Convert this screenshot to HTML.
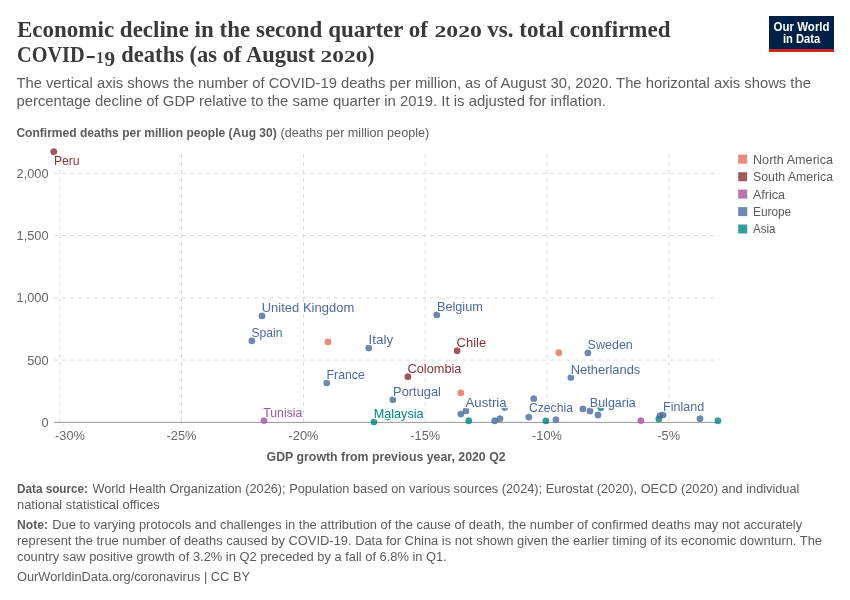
<!DOCTYPE html>
<html><head><meta charset="utf-8"><style>
html,body{margin:0;padding:0;background:#fff;width:850px;height:600px;overflow:hidden}
svg{display:block;will-change:transform}
text{font-family:"Liberation Sans",sans-serif}
.ti{font-family:"Liberation Serif",serif;font-weight:bold;font-size:22.5px;fill:#3a3a3a}
.od{font-size:16.8px}
.st{font-size:14.3px;fill:#5b5b5b}
.ax{font-size:12.5px;fill:#5b5b5b}
.t{font-size:12.8px;fill:#666}
.lb{font-size:12.8px;paint-order:stroke;stroke:#fff;stroke-width:2.5;stroke-linejoin:round}
.lg{font-size:12.6px;fill:#5b5b5b}
.ft{font-size:12.3px;fill:#5b5b5b}
.g{stroke:#ddd;stroke-width:1;stroke-dasharray:4,4}
</style></head><body>
<svg width="850" height="600" viewBox="0 0 850 600">
<text x="17" y="36.9" class="ti" textLength="411" lengthAdjust="spacingAndGlyphs">Economic decline in the second quarter of</text>
<text x="434.4" y="36.9" class="ti od" textLength="47.6" lengthAdjust="spacingAndGlyphs">2020</text>
<text x="487.3" y="36.9" class="ti" textLength="183.2" lengthAdjust="spacingAndGlyphs">vs. total confirmed</text>
<text x="17" y="62.4" class="ti" textLength="67.6" lengthAdjust="spacingAndGlyphs">COVID</text>
<rect x="86.8" y="56" width="7.9" height="2.1" fill="#3a3a3a"/>
<text x="96.5" y="62.6" class="ti" style="font-size:17.3px" textLength="7" lengthAdjust="spacingAndGlyphs">1</text>
<text x="104.4" y="65.6" class="ti" style="font-size:21.5px" textLength="10.6" lengthAdjust="spacingAndGlyphs">9</text>
<text x="121.3" y="62.4" class="ti" textLength="193.6" lengthAdjust="spacingAndGlyphs">deaths (as of August</text>
<text x="320.6" y="62.4" class="ti od" textLength="46.8" lengthAdjust="spacingAndGlyphs">2020</text>
<text x="367.4" y="62.4" class="ti" textLength="7" lengthAdjust="spacingAndGlyphs">)</text>
<rect x="769" y="16" width="65" height="33" fill="#002147"/>
<rect x="769" y="49" width="65" height="3" fill="#ca2628"/>
<text x="801.6" y="30.8" text-anchor="middle" style="font-size:12.2px;font-weight:bold" fill="#fff" textLength="56" lengthAdjust="spacingAndGlyphs">Our World</text>
<text x="801.6" y="42.9" text-anchor="middle" style="font-size:12.2px;font-weight:bold" fill="#fff" textLength="37.3" lengthAdjust="spacingAndGlyphs">in Data</text>
<text x="16.4" y="87.7" class="st" textLength="794.5" lengthAdjust="spacingAndGlyphs">The vertical axis shows the number of COVID-19 deaths per million, as of August 30, 2020. The horizontal axis shows the</text>
<text x="16.4" y="105.8" class="st" textLength="589.6" lengthAdjust="spacingAndGlyphs">percentage decline of GDP relative to the same quarter in 2019. It is adjusted for inflation.</text>
<text x="16.4" y="136.7" class="ax"><tspan font-weight="bold" textLength="260.4" lengthAdjust="spacingAndGlyphs">Confirmed deaths per million people (Aug 30)</tspan></text>
<text x="280.5" y="136.7" class="ax" textLength="148.7" lengthAdjust="spacingAndGlyphs">(deaths per million people)</text>
<line x1="54" y1="173.3" x2="719" y2="173.3" class="g"/>
<line x1="54" y1="235.5" x2="719" y2="235.5" class="g"/>
<line x1="54" y1="297.8" x2="719" y2="297.8" class="g"/>
<line x1="54" y1="360.1" x2="719" y2="360.1" class="g"/>
<line x1="59.7" y1="154" x2="59.7" y2="422" class="g"/>
<line x1="181.5" y1="154" x2="181.5" y2="422" class="g"/>
<line x1="303.5" y1="154" x2="303.5" y2="422" class="g"/>
<line x1="425.2" y1="154" x2="425.2" y2="422" class="g"/>
<line x1="547" y1="154" x2="547" y2="422" class="g"/>
<line x1="668.7" y1="154" x2="668.7" y2="422" class="g"/>
<line x1="54" y1="422.4" x2="719" y2="422.4" stroke="#999" stroke-width="1"/>
<text x="48.6" y="177.70000000000002" text-anchor="end" class="t">2,000</text>
<text x="48.6" y="239.9" text-anchor="end" class="t">1,500</text>
<text x="48.6" y="302.2" text-anchor="end" class="t">1,000</text>
<text x="48.6" y="364.5" text-anchor="end" class="t">500</text>
<text x="48.6" y="426.79999999999995" text-anchor="end" class="t">0</text>
<text x="55" y="440" class="t">-30%</text>
<text x="181.5" y="440" text-anchor="middle" class="t">-25%</text>
<text x="303.5" y="440" text-anchor="middle" class="t">-20%</text>
<text x="425.2" y="440" text-anchor="middle" class="t">-15%</text>
<text x="547" y="440" text-anchor="middle" class="t">-10%</text>
<text x="668.7" y="440" text-anchor="middle" class="t">-5%</text>
<circle cx="374" cy="421.9" r="3.2" fill="#00847e" fill-opacity="0.8" stroke="#00847e" stroke-opacity="0.6" stroke-width="0.5"/>
<circle cx="387.9" cy="417" r="3.2" fill="#00847e" fill-opacity="0.8" stroke="#00847e" stroke-opacity="0.6" stroke-width="0.5"/>
<circle cx="468.8" cy="420.8" r="3.2" fill="#00847e" fill-opacity="0.8" stroke="#00847e" stroke-opacity="0.6" stroke-width="0.5"/>
<circle cx="545.9" cy="420.9" r="3.2" fill="#00847e" fill-opacity="0.8" stroke="#00847e" stroke-opacity="0.6" stroke-width="0.5"/>
<circle cx="600.9" cy="407.7" r="3.2" fill="#00847e" fill-opacity="0.8" stroke="#00847e" stroke-opacity="0.6" stroke-width="0.5"/>
<circle cx="658.8" cy="419" r="3.2" fill="#00847e" fill-opacity="0.8" stroke="#00847e" stroke-opacity="0.6" stroke-width="0.5"/>
<circle cx="717.9" cy="420.8" r="3.2" fill="#00847e" fill-opacity="0.8" stroke="#00847e" stroke-opacity="0.6" stroke-width="0.5"/>
<circle cx="262" cy="315.9" r="3.2" fill="#4c6a9c" fill-opacity="0.8" stroke="#4c6a9c" stroke-opacity="0.6" stroke-width="0.5"/>
<circle cx="251.9" cy="340.8" r="3.2" fill="#4c6a9c" fill-opacity="0.8" stroke="#4c6a9c" stroke-opacity="0.6" stroke-width="0.5"/>
<circle cx="368.8" cy="348" r="3.2" fill="#4c6a9c" fill-opacity="0.8" stroke="#4c6a9c" stroke-opacity="0.6" stroke-width="0.5"/>
<circle cx="326.8" cy="382.9" r="3.2" fill="#4c6a9c" fill-opacity="0.8" stroke="#4c6a9c" stroke-opacity="0.6" stroke-width="0.5"/>
<circle cx="436.8" cy="314.9" r="3.2" fill="#4c6a9c" fill-opacity="0.8" stroke="#4c6a9c" stroke-opacity="0.6" stroke-width="0.5"/>
<circle cx="392.9" cy="399.7" r="3.2" fill="#4c6a9c" fill-opacity="0.8" stroke="#4c6a9c" stroke-opacity="0.6" stroke-width="0.5"/>
<circle cx="460.8" cy="414.1" r="3.2" fill="#4c6a9c" fill-opacity="0.8" stroke="#4c6a9c" stroke-opacity="0.6" stroke-width="0.5"/>
<circle cx="465.9" cy="410.9" r="3.2" fill="#4c6a9c" fill-opacity="0.8" stroke="#4c6a9c" stroke-opacity="0.6" stroke-width="0.5"/>
<circle cx="494.7" cy="420.8" r="3.2" fill="#4c6a9c" fill-opacity="0.8" stroke="#4c6a9c" stroke-opacity="0.6" stroke-width="0.5"/>
<circle cx="500" cy="418.8" r="3.2" fill="#4c6a9c" fill-opacity="0.8" stroke="#4c6a9c" stroke-opacity="0.6" stroke-width="0.5"/>
<circle cx="504.7" cy="407.6" r="3.2" fill="#4c6a9c" fill-opacity="0.8" stroke="#4c6a9c" stroke-opacity="0.6" stroke-width="0.5"/>
<circle cx="533.8" cy="398.8" r="3.2" fill="#4c6a9c" fill-opacity="0.8" stroke="#4c6a9c" stroke-opacity="0.6" stroke-width="0.5"/>
<circle cx="528.8" cy="417.1" r="3.2" fill="#4c6a9c" fill-opacity="0.8" stroke="#4c6a9c" stroke-opacity="0.6" stroke-width="0.5"/>
<circle cx="555.9" cy="419.7" r="3.2" fill="#4c6a9c" fill-opacity="0.8" stroke="#4c6a9c" stroke-opacity="0.6" stroke-width="0.5"/>
<circle cx="587.9" cy="352.9" r="3.2" fill="#4c6a9c" fill-opacity="0.8" stroke="#4c6a9c" stroke-opacity="0.6" stroke-width="0.5"/>
<circle cx="570.9" cy="377.6" r="3.2" fill="#4c6a9c" fill-opacity="0.8" stroke="#4c6a9c" stroke-opacity="0.6" stroke-width="0.5"/>
<circle cx="582.9" cy="408.9" r="3.2" fill="#4c6a9c" fill-opacity="0.8" stroke="#4c6a9c" stroke-opacity="0.6" stroke-width="0.5"/>
<circle cx="590" cy="411" r="3.2" fill="#4c6a9c" fill-opacity="0.8" stroke="#4c6a9c" stroke-opacity="0.6" stroke-width="0.5"/>
<circle cx="598" cy="415" r="3.2" fill="#4c6a9c" fill-opacity="0.8" stroke="#4c6a9c" stroke-opacity="0.6" stroke-width="0.5"/>
<circle cx="660" cy="415.6" r="3.2" fill="#4c6a9c" fill-opacity="0.8" stroke="#4c6a9c" stroke-opacity="0.6" stroke-width="0.5"/>
<circle cx="663.1" cy="414.9" r="3.2" fill="#4c6a9c" fill-opacity="0.8" stroke="#4c6a9c" stroke-opacity="0.6" stroke-width="0.5"/>
<circle cx="700" cy="418.8" r="3.2" fill="#4c6a9c" fill-opacity="0.8" stroke="#4c6a9c" stroke-opacity="0.6" stroke-width="0.5"/>
<circle cx="53.8" cy="151.8" r="3.2" fill="#883039" fill-opacity="0.8" stroke="#883039" stroke-opacity="0.6" stroke-width="0.5"/>
<circle cx="457.1" cy="350.8" r="3.2" fill="#883039" fill-opacity="0.8" stroke="#883039" stroke-opacity="0.6" stroke-width="0.5"/>
<circle cx="407.9" cy="376.8" r="3.2" fill="#883039" fill-opacity="0.8" stroke="#883039" stroke-opacity="0.6" stroke-width="0.5"/>
<circle cx="328" cy="341.9" r="3.2" fill="#e56e5a" fill-opacity="0.8" stroke="#e56e5a" stroke-opacity="0.6" stroke-width="0.5"/>
<circle cx="460.8" cy="392.9" r="3.2" fill="#e56e5a" fill-opacity="0.8" stroke="#e56e5a" stroke-opacity="0.6" stroke-width="0.5"/>
<circle cx="558.8" cy="352.7" r="3.2" fill="#e56e5a" fill-opacity="0.8" stroke="#e56e5a" stroke-opacity="0.6" stroke-width="0.5"/>
<circle cx="264" cy="420.6" r="3.2" fill="#a2559c" fill-opacity="0.8" stroke="#a2559c" stroke-opacity="0.6" stroke-width="0.5"/>
<circle cx="640.9" cy="420.6" r="3.2" fill="#a2559c" fill-opacity="0.8" stroke="#a2559c" stroke-opacity="0.6" stroke-width="0.5"/>
<text x="54.0" y="165.4" class="lb" fill="#883039" textLength="25.6" lengthAdjust="spacingAndGlyphs">Peru</text>
<text x="261.7" y="311.9" class="lb" fill="#4c6a9c" textLength="92.6" lengthAdjust="spacingAndGlyphs">United Kingdom</text>
<text x="251.4" y="336.8" class="lb" fill="#4c6a9c" textLength="31.2" lengthAdjust="spacingAndGlyphs">Spain</text>
<text x="368.6" y="343.5" class="lb" fill="#4c6a9c" textLength="24.8" lengthAdjust="spacingAndGlyphs">Italy</text>
<text x="326.6" y="378.6" class="lb" fill="#4c6a9c" textLength="38.2" lengthAdjust="spacingAndGlyphs">France</text>
<text x="436.9" y="310.9" class="lb" fill="#4c6a9c" textLength="46" lengthAdjust="spacingAndGlyphs">Belgium</text>
<text x="456.6" y="346.8" class="lb" fill="#883039" textLength="29.6" lengthAdjust="spacingAndGlyphs">Chile</text>
<text x="407.6" y="372.6" class="lb" fill="#883039" textLength="53.8" lengthAdjust="spacingAndGlyphs">Colombia</text>
<text x="393.1" y="395.6" class="lb" fill="#4c6a9c" textLength="47.8" lengthAdjust="spacingAndGlyphs">Portugal</text>
<text x="465.5" y="406.7" class="lb" fill="#4c6a9c" textLength="41.1" lengthAdjust="spacingAndGlyphs">Austria</text>
<text x="529.0" y="412.1" class="lb" fill="#4c6a9c" textLength="43.9" lengthAdjust="spacingAndGlyphs">Czechia</text>
<text x="587.6" y="348.8" class="lb" fill="#4c6a9c" textLength="45.2" lengthAdjust="spacingAndGlyphs">Sweden</text>
<text x="570.8" y="373.8" class="lb" fill="#4c6a9c" textLength="69.5" lengthAdjust="spacingAndGlyphs">Netherlands</text>
<text x="589.8" y="406.8" class="lb" fill="#4c6a9c" textLength="45.9" lengthAdjust="spacingAndGlyphs">Bulgaria</text>
<text x="663.0" y="410.5" class="lb" fill="#4c6a9c" textLength="41.2" lengthAdjust="spacingAndGlyphs">Finland</text>
<text x="263.3" y="416.6" class="lb" fill="#a2559c" textLength="39" lengthAdjust="spacingAndGlyphs">Tunisia</text>
<text x="373.7" y="417.9" class="lb" fill="#00847e" textLength="49.9" lengthAdjust="spacingAndGlyphs">Malaysia</text>
<text x="266.6" y="461" class="ax" font-weight="bold" textLength="239" lengthAdjust="spacingAndGlyphs">GDP growth from previous year, 2020 Q2</text>
<rect x="738.2" y="154.7" width="9" height="9" fill="#ea8b7b"/>
<rect x="738.2" y="172.2" width="9" height="9" fill="#a05960"/>
<rect x="738.2" y="189.6" width="9" height="9" fill="#b577b0"/>
<rect x="738.2" y="207.1" width="9" height="9" fill="#7088b0"/>
<rect x="738.2" y="224.5" width="9" height="9" fill="#339d98"/>
<text x="753" y="163.5" class="lg" textLength="80" lengthAdjust="spacingAndGlyphs">North America</text>
<text x="753" y="181.1" class="lg" textLength="80" lengthAdjust="spacingAndGlyphs">South America</text>
<text x="753" y="198.5" class="lg" textLength="32" lengthAdjust="spacingAndGlyphs">Africa</text>
<text x="753" y="215.9" class="lg" textLength="38.2" lengthAdjust="spacingAndGlyphs">Europe</text>
<text x="753" y="233.3" class="lg" textLength="22.5" lengthAdjust="spacingAndGlyphs">Asia</text>
<text x="17" y="493.3" class="ft" font-weight="bold" style="font-weight:bold" textLength="71" lengthAdjust="spacingAndGlyphs">Data source:</text>
<text x="92.4" y="493.3" class="ft" textLength="707" lengthAdjust="spacingAndGlyphs">World Health Organization (2026); Population based on various sources (2024); Eurostat (2020), OECD (2020) and individual</text>
<text x="17" y="508.8" class="ft" textLength="142.6" lengthAdjust="spacingAndGlyphs">national statistical offices</text>
<text x="17" y="529.4" class="ft" style="font-weight:bold" textLength="31" lengthAdjust="spacingAndGlyphs">Note:</text>
<text x="52.2" y="529.4" class="ft" textLength="750" lengthAdjust="spacingAndGlyphs">Due to varying protocols and challenges in the attribution of the cause of death, the number of confirmed deaths may not accurately</text>
<text x="17" y="544.9" class="ft" textLength="805" lengthAdjust="spacingAndGlyphs">represent the true number of deaths caused by COVID-19. Data for China is not shown given the earlier timing of its economic downturn. The</text>
<text x="17" y="560.5" class="ft" textLength="429.8" lengthAdjust="spacingAndGlyphs">country saw positive growth of 3.2% in Q2 preceded by a fall of 6.8% in Q1.</text>
<text x="17" y="580.6" class="ft" textLength="233" lengthAdjust="spacingAndGlyphs">OurWorldinData.org/coronavirus | CC BY</text>
</svg>
</body></html>
